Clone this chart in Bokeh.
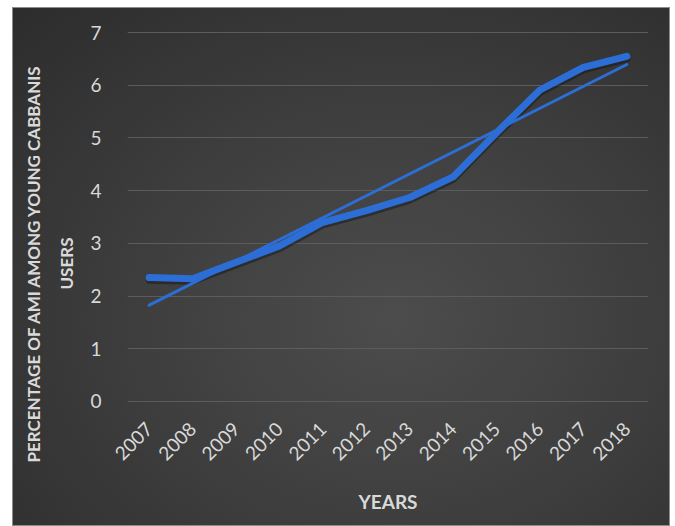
import numpy as np
from math import pi
from bokeh.plotting import figure
from bokeh.models import (FactorRange, Range1d, FixedTicker, Title,
                          ColumnDataSource)
from bokeh.transform import dodge
from bokeh.embed import file_html
from bokeh.resources import INLINE

# ---- data ----
years = ["2007", "2008", "2009", "2010", "2011", "2012",
         "2013", "2014", "2015", "2016", "2017", "2018"]
ami_pct = [2.35, 2.33, 2.64, 2.95, 3.40, 3.62,
           3.87, 4.26, 5.10, 5.91, 6.34, 6.55]
y_ticks = [0, 1, 2, 3, 4, 5, 6, 7]
x_title = "YEARS"
y_title_line1 = "PERCENTAGE OF AMI AMONG YOUNG CABBANIS"
y_title_line2 = "USERS"

# linear trendline (least squares over the series, like Excel's trendline)
slope, intercept = np.polyfit(np.arange(len(years)), ami_pct, 1)
trend_vals = [intercept, intercept + slope * (len(years) - 1)]

FONT = "Lato"
TXT = "#d9d9d9"
BLUE = "#2c6ed5"

src = ColumnDataSource(dict(year=years, pct=ami_pct))
trend_src = ColumnDataSource(dict(year=[years[0], years[-1]], pct=trend_vals))

p = figure(width=658, height=519,
           x_range=FactorRange(*years), y_range=Range1d(-0.02, 7.02),
           output_backend="svg", toolbar_location=None,
           min_border_left=115, min_border_right=22,
           min_border_top=24, min_border_bottom=124,
           margin=(7, 5, 0, 12),
           background_fill_alpha=0, border_fill_alpha=0,
           outline_line_color=None,
           styles={
               "background": "radial-gradient(ellipse at 58% 60%, #4c4c4c 0%, #424242 35%, #2c2c2c 100%)",
               "box-shadow": "inset 0 0 0 1px #8c8c8c",
           })

# grid
p.xgrid.grid_line_color = None
p.ygrid.grid_line_color = "#5c5c5c"
p.ygrid.grid_line_width = 1
p.yaxis.ticker = FixedTicker(ticks=y_ticks)

# axes styling
for ax in (p.xaxis[0], p.yaxis[0]):
    ax.axis_line_color = None
    ax.major_tick_line_color = None
    ax.minor_tick_line_color = None
    ax.major_label_text_font = FONT
    ax.major_label_text_font_size = "19px"
    ax.major_label_text_color = TXT

p.yaxis.major_label_standoff = 20
p.xaxis.major_label_orientation = pi / 4
p.xaxis.major_label_standoff = 17
p.xaxis.axis_label = x_title
p.xaxis.axis_label_text_font = FONT
p.xaxis.axis_label_text_font_size = "19px"
p.xaxis.axis_label_text_font_style = "bold"
p.xaxis.axis_label_text_color = TXT
p.xaxis.axis_label_standoff = 20

# y axis title: two side titles (inner line first), placed along the axis
title_style = dict(text_font=FONT, text_font_size="17px",
                   text_font_style="bold", text_color=TXT)
p.add_layout(Title(text=y_title_line2, align="left", offset=113,
                   standoff=21, **title_style), "left")
p.add_layout(Title(text=y_title_line1, align="left", offset=-60,
                   standoff=0, **title_style), "left")

# series shadow, series, trendline
p.line(x="year", y=dodge("pct", -0.05, range=p.y_range), source=src,
       line_color="#111111", line_alpha=0.45, line_width=7,
       line_join="round", line_cap="round")
p.line(x="year", y="pct", source=src, line_color=BLUE, line_width=7,
       line_join="round", line_cap="round")
p.line(x="year", y="pct", source=trend_src, line_color=BLUE, line_width=3,
       line_cap="round")

open("out.html", "w").write(file_html(p, INLINE))
